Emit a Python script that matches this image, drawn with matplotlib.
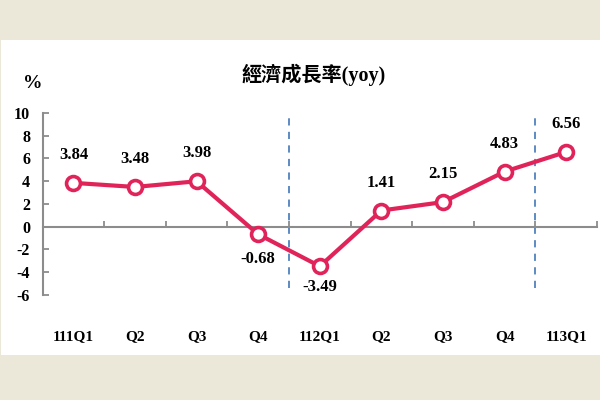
import matplotlib.pyplot as plt
from matplotlib.transforms import blended_transform_factory

plt.rcParams['font.family'] = ['Liberation Serif', 'Noto Sans CJK TC']

# 資料
quarters = ['111Q1', 'Q2', 'Q3', 'Q4', '112Q1', 'Q2', 'Q3', 'Q4', '113Q1']
growth = [3.84, 3.48, 3.98, -0.68, -3.49, 1.41, 2.15, 4.83, 6.56]
yticks = [-6, -4, -2, 0, 2, 4, 6, 8, 10]
year_breaks = [3.5, 7.5]

line_color = '#e0245a'
axis_color = '#8c8c8c'

fig = plt.figure(figsize=(6, 4), dpi=100)
fig.patch.set_facecolor('#ece8d9')

# white panel
bg = fig.add_axes([0.002, 0.1125, 0.998, 0.7875])
bg.set_facecolor('white')
bg.set_xticks([])
bg.set_yticks([])
for s in bg.spines.values():
    s.set_visible(False)

ax = fig.add_axes([0.071, 0.263, 0.924, 0.455])
ax.set_facecolor('none')

x = list(range(len(quarters)))
ax.plot(x, growth, color=line_color, lw=3, marker='o', ms=10,
        mfc='white', mec=line_color, mew=2.6, zorder=3, clip_on=False)

for xi in year_breaks:
    ax.plot([xi, xi], [-5.4, 10], color='#4f81bd', lw=1.3, ls=(0, (4, 3.5)), zorder=2)

# 數據標籤
for i, v in enumerate(growth):
    if v < 0:
        dy = -18 if i == 3 else -15
    else:
        dy = 20
    ax.annotate(f'{v:.2f}', (i, v), xytext=(0, dy), textcoords='offset points',
                ha='center', va='center', fontsize=12, fontweight='bold')

ax.set_xlim(-0.5, len(quarters) - 0.5)
ax.set_ylim(-6, 10)
ax.set_yticks(yticks)
ax.set_yticklabels([str(t) for t in yticks], fontsize=11.5, fontweight='bold')
ax.tick_params(axis='y', direction='in', length=4, width=1.3, color=axis_color, pad=9)

ax.spines['top'].set_visible(False)
ax.spines['right'].set_visible(False)
ax.spines['left'].set_color(axis_color)
ax.spines['left'].set_linewidth(1.5)
ax.spines['bottom'].set_position(('data', 0))
ax.spines['bottom'].set_color(axis_color)
ax.spines['bottom'].set_linewidth(1.5)
ax.set_xticks([i - 0.5 for i in range(len(quarters) + 1)])
ax.set_xticklabels([])
ax.tick_params(axis='x', direction='in', length=4, width=1.3, color=axis_color)

trans = blended_transform_factory(ax.transData, ax.transAxes)
for i, q in enumerate(quarters):
    ax.text(i, -0.23, q, transform=trans, ha='center', va='center',
            fontsize=11, fontweight='bold')

fig.text(0.055, 0.79, '%', ha='center', va='center', fontsize=14, fontweight='bold')
fig.text(0.523, 0.812, '經濟成長率(yoy)', ha='center', va='center', fontsize=14.5,
         fontweight='bold')

fig.savefig('out.png', dpi=100, facecolor=fig.get_facecolor())
